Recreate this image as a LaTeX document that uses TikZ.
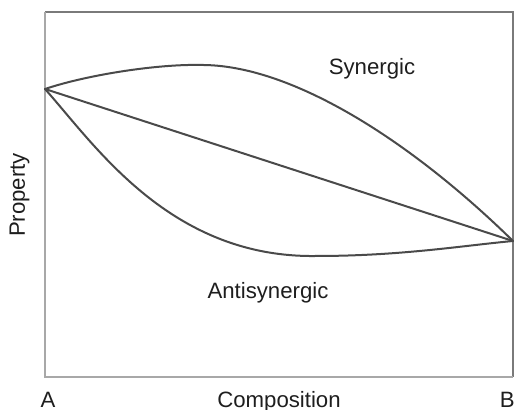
\documentclass[tikz,border=0pt]{standalone}
\usepackage{fontspec}
\setmainfont{Liberation Sans}
\usetikzlibrary{positioning}
\definecolor{curvegray}{HTML}{4A4A4A}
\definecolor{axisgray}{HTML}{A8A8A8}
\definecolor{framegray}{HTML}{7A7A7A}
\definecolor{labelblack}{HTML}{1E1E1E}

\begin{document}
\begin{tikzpicture}[x=0.5pt,y=-0.5pt,lbl/.style={text=labelblack,font=\fontsize{11.1}{13}\selectfont,inner sep=0pt},curve/.style={draw=curvegray,line width=1pt,line cap=round}]
\useasboundingbox (0,0) rectangle (516,410);
% frame of the plot
\coordinate (tl) at (45,12); \coordinate (tr) at (513,12);
\coordinate (bl) at (45,377); \coordinate (br) at (513,377);
\draw[framegray,line width=0.7pt] (tl)--(tr)--(br);
\draw[axisgray,line width=1.4pt] (tl)--(bl)--(br);
% end members
\coordinate (A) at (45,89);
\coordinate (B) at (513,241);
\coordinate (top) at (200,65);
\coordinate (bot) at (316,256);
\draw[curve] (A) .. controls (90,74) and (160,64) .. (top) .. controls (290,64) and (410,140) .. (B);
\draw[curve] (A)--(B);
\draw[curve] (A) .. controls (95,145) and (170,258) .. (bot) .. controls (400,256) and (460,246) .. (B);
% labels
\node[lbl,anchor=base] (syn) at (372,75) {Synergic};
\node[lbl,anchor=base] (anti) at (268,299) {Antisynergic};
\node[lbl,rotate=90,anchor=base] (prop) at (25,195) {Property};
\node[lbl,anchor=base] (la) at (48,408) {A};
\node[lbl,anchor=base] (comp) at (279,408) {Composition};
\node[lbl,anchor=base east] (lb) at (515,408) {B};
\end{tikzpicture}
\end{document}
